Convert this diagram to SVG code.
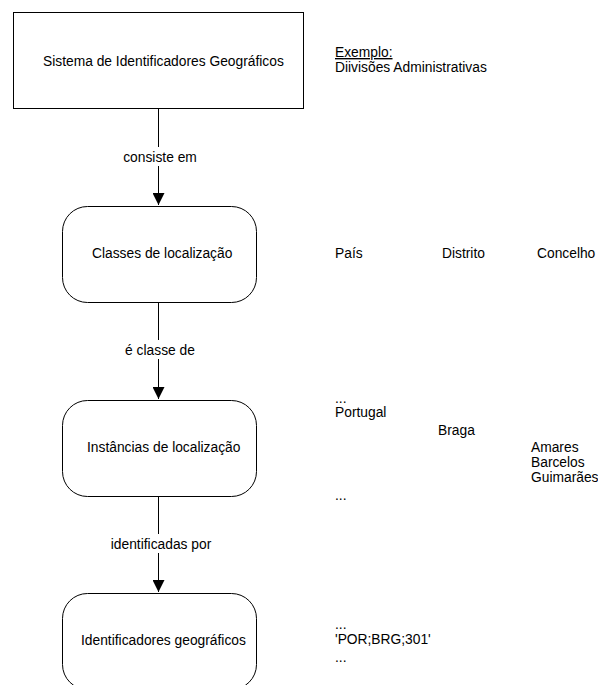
<svg xmlns="http://www.w3.org/2000/svg" width="598" height="685" viewBox="0 0 598 685">
<style>
text{font-family:"Liberation Sans",Arial,sans-serif;font-size:13.8px;fill:#000}
.box{fill:#fff;stroke:#000;stroke-width:1}
.edge{stroke:#000;stroke-width:1;fill:none}
.lbl{text-anchor:middle}
.bg{fill:#fff}
</style>
<defs>
<marker id="arr" markerWidth="12" markerHeight="12" refX="10" refY="5" orient="auto" markerUnits="userSpaceOnUse" viewBox="0 0 10 10">
<path d="M0,0 L10,5 L0,10 Z" fill="#000"/>
</marker>
</defs>
<rect width="598" height="685" fill="#fff"/>
<g id="connectors">
<g id="e1">
<line class="edge" x1="158.5" y1="108" x2="158.5" y2="205" marker-end="url(#arr)"/>
<rect class="bg" x="121" y="147" width="79" height="19"/>
<text class="lbl" x="160" y="162">consiste em</text>
</g>
<g id="e2">
<line class="edge" x1="158.5" y1="302" x2="158.5" y2="399" marker-end="url(#arr)"/>
<rect class="bg" x="123" y="340" width="75" height="19"/>
<text class="lbl" x="160" y="355">é classe de</text>
</g>
<g id="e3">
<line class="edge" x1="158.5" y1="496" x2="158.5" y2="592" marker-end="url(#arr)"/>
<rect class="bg" x="108" y="534" width="106" height="19"/>
<text class="lbl" x="161" y="549">identificadas por</text>
</g>
</g>
<g id="n1">
<rect class="box" x="13.5" y="12.5" width="290" height="96"/>
<text x="43" y="66">Sistema de Identificadores Geográficos</text>
</g>
<g id="n2">
<rect class="box" x="62.5" y="206.5" width="194" height="96" rx="25" ry="25"/>
<text x="92" y="258">Classes de localização</text>
</g>
<g id="n3">
<rect class="box" x="62.5" y="400.5" width="194" height="96" rx="25" ry="25"/>
<text x="87" y="452">Instâncias de localização</text>
</g>
<g id="n4">
<rect class="box" x="62.5" y="593.5" width="194" height="96" rx="25" ry="25"/>
<text x="81" y="645">Identificadores geográficos</text>
</g>
<g id="notes">
<text x="335" y="57" text-decoration="underline">Exemplo:</text>
<text x="335" y="72">Diivisões Administrativas</text>
<text x="335" y="258">País</text>
<text x="442" y="258">Distrito</text>
<text x="537" y="258">Concelho</text>
<text x="335" y="403">...</text>
<text x="335" y="417">Portugal</text>
<text x="438" y="435">Braga</text>
<text x="531" y="452">Amares</text>
<text x="531" y="467">Barcelos</text>
<text x="531" y="482">Guimarães</text>
<text x="335" y="500">...</text>
<text x="335" y="629">...</text>
<text x="335" y="644">'POR;BRG;301'</text>
<text x="335" y="662">...</text>
</g>
</svg>
